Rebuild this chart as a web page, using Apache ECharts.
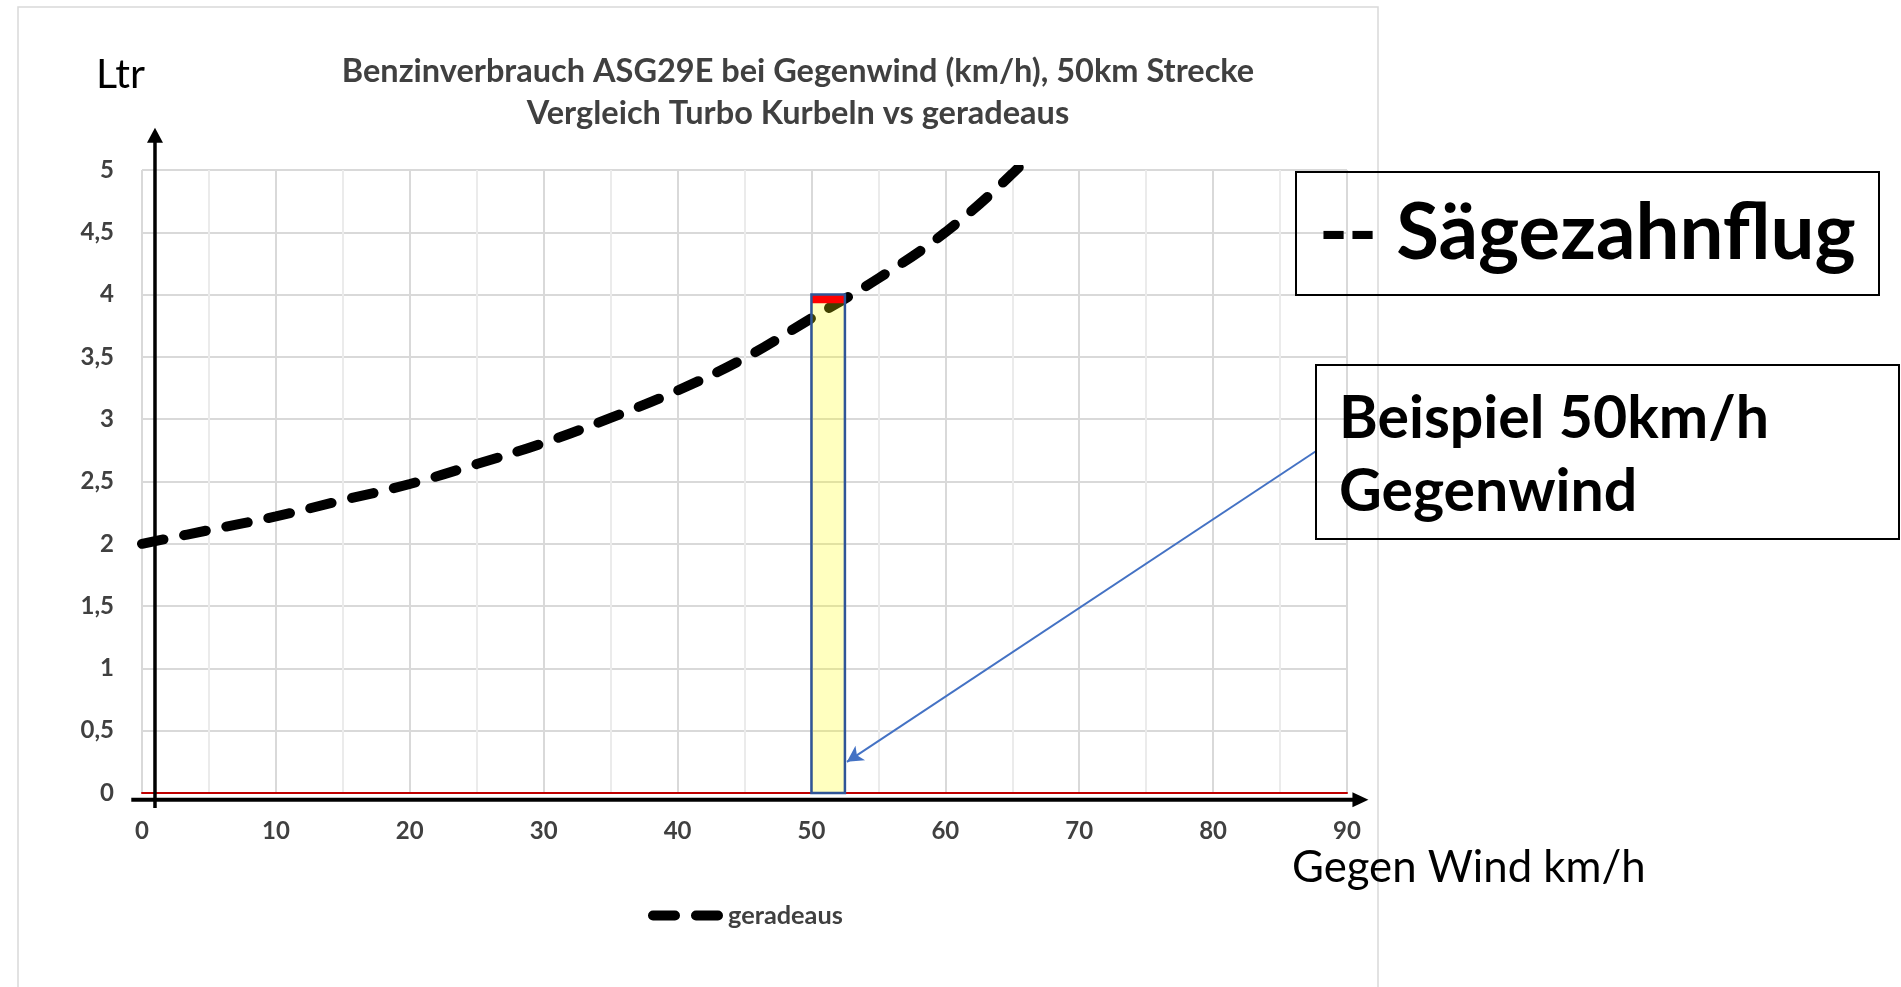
<!DOCTYPE html>
<html><head><meta charset="utf-8">
<script src="https://cdn.jsdelivr.net/npm/echarts@6/dist/echarts.min.js"></script>
<style>html,body{margin:0;padding:0;background:#fff}#c{width:1901px;height:987px}</style>
</head><body><div id="c"></div>
<script>
// ---- data ----
const windKmh = [0, 5, 10, 15, 20, 25, 30, 35, 40, 45, 50, 55, 60, 65, 70];
const fuelLtr = [2.0, 2.11, 2.22, 2.35, 2.48, 2.64, 2.81, 3.01, 3.23, 3.49, 3.81, 4.13, 4.5, 4.97, 5.52];
const seriesName = 'geradeaus';
const xTickValues = [0, 10, 20, 30, 40, 50, 60, 70, 80, 90];
const yTickLabels = ['0', '0,5', '1', '1,5', '2', '2,5', '3', '3,5', '4', '4,5', '5'];
const highlightBar = [50, 52.5, 0, 4];     // x0, x1, y0, y1
const redBand = [3.93, 4.0];               // y0, y1
const arrowFrom = [87.7, 2.745];
const arrowTo = [52.65, 0.25];
const titleLines = ['Benzinverbrauch ASG29E bei Gegenwind (km/h), 50km Strecke', 'Vergleich Turbo Kurbeln vs geradeaus'];
const yName = 'Ltr';
const xName = 'Gegen Wind km/h';
const box1Text = '-- Sägezahnflug';
const box2Lines = ['Beispiel 50km/h', 'Gegenwind'];

// ---- helpers ----
const FAM = 'Lato';
const mctx = document.createElement('canvas').getContext('2d');
function fit(text, weight, target) {
  mctx.font = weight + ' 100px ' + FAM;
  return Math.round(1000 * target / mctx.measureText(text).width) / 10;
}

const linePoints = windKmh.map((x, i) => [x, fuelLtr[i]]);
const chart = echarts.init(document.getElementById('c'));

const titleSize = fit(titleLines[0], 'bold', 913);
const dashIcon = 'path://M5,0H27A5,5,0,0,1,27,10H5A5,5,0,0,1,5,0ZM48,0H70A5,5,0,0,1,70,10H48A5,5,0,0,1,48,0Z';

const option = {
  animation: false,
  title: {
    text: titleLines.join('\n'),
    left: 798, top: 51, textAlign: 'center', padding: 0,
    textStyle: { fontFamily: FAM, fontWeight: 'bold', fontSize: titleSize, color: '#404040', lineHeight: 42 }
  },
  legend: {
    data: [{ name: seriesName, icon: dashIcon }], left: 648, top: 903, padding: 0, itemWidth: 75, itemHeight: 10,
    itemStyle: { color: '#000' },
    textStyle: { fontFamily: FAM, fontWeight: 'bold', fontSize: fit('geradeaus', 'bold', 115), color: '#404040' }
  },
  grid: { left: 142, top: 170, width: 1205, height: 623, containLabel: false },
  xAxis: {
    type: 'value', min: 0, max: 90, interval: 10,
    axisLine: { show: true, onZero: true, lineStyle: { color: '#C00000', width: 2 } },
    axisTick: { show: false },
    axisLabel: { margin: 26, fontFamily: FAM, fontWeight: 'bold', fontSize: 24, color: '#404040',
      formatter: v => (xTickValues.indexOf(v) >= 0 ? String(v) : '') },
    splitLine: { show: true, lineStyle: { color: '#d9d9d9', width: 2 } },
    minorTick: { show: false, splitNumber: 2 },
    minorSplitLine: { show: true, lineStyle: { color: '#ebebeb', width: 2 } }
  },
  yAxis: {
    type: 'value', min: 0, max: 5, interval: 0.5,
    axisLine: { show: false }, axisTick: { show: false },
    axisLabel: { margin: 28, fontFamily: FAM, fontWeight: 'bold', fontSize: 24, color: '#404040',
      formatter: (v) => yTickLabels[Math.round(v / 0.5)] },
    splitLine: { show: true, lineStyle: { color: '#d9d9d9', width: 2 } }
  },
  series: [
    {
      name: seriesName, type: 'line', data: linePoints, smooth: 0.4, symbol: 'none', clip: true, z: 2,
      lineStyle: { color: '#000', width: 10, type: [22, 21], cap: 'round' },
      itemStyle: { color: '#000' },
      markLine: {
        silent: true, symbol: ['none', 'arrow'], symbolSize: [13, 16],
        label: { show: false },
        lineStyle: { color: '#4472C4', width: 2, type: 'solid' },
        data: [[{ coord: arrowFrom }, { coord: arrowTo }]]
      }
    },
    {
      name: 'Beispiel', type: 'custom', z: 5, silent: true,
      data: [[highlightBar[0], highlightBar[1], highlightBar[2], highlightBar[3], redBand[0], redBand[1]]],
      renderItem: function (params, api) {
        const a = api.coord([api.value(0), api.value(3)]);
        const b = api.coord([api.value(1), api.value(2)]);
        const r0 = api.coord([api.value(0), api.value(5)]);
        const r1 = api.coord([api.value(1), api.value(4)]);
        return {
          type: 'group', children: [
            { type: 'rect', shape: { x: a[0], y: a[1], width: b[0] - a[0], height: b[1] - a[1] },
              style: { fill: 'rgba(255,255,0,0.25)', stroke: null } },
            { type: 'rect', shape: { x: r0[0], y: r0[1], width: r1[0] - r0[0], height: r1[1] - r0[1] },
              style: { fill: '#FF0000' } },
            { type: 'rect', shape: { x: a[0], y: a[1], width: b[0] - a[0], height: b[1] - a[1] },
              style: { fill: 'none', stroke: '#2F5597', lineWidth: 2.5 } }
          ]
        };
      }
    }
  ]
};
chart.setOption(option);

// ---- annotations (axis arrows, labels, boxes) ----
const P = (x, y) => chart.convertToPixel({ gridIndex: 0 }, [x, y]);
const yaBot = P(0.97, -0.12), yaTop = P(0.97, 5.34);
const xaL = P(-0.8, -0.055), xaR = P(91.6, -0.055);
const LW = 3.5;
const g = [];
g.push({ type: 'rect', shape: { x: 18, y: 7, width: 1360, height: 1000 }, style: { fill: 'none', stroke: '#d9d9d9', lineWidth: 1.5 }, z: 0, silent: true });
// y arrow
g.push({ type: 'line', shape: { x1: yaBot[0], y1: yaBot[1], x2: yaTop[0], y2: yaTop[1] + 13 }, style: { stroke: '#000', lineWidth: LW }, z: 50 });
g.push({ type: 'polygon', shape: { points: [[yaTop[0], yaTop[1]], [yaTop[0] - 8, yaTop[1] + 15], [yaTop[0] + 8, yaTop[1] + 15]] }, style: { fill: '#000' }, z: 50 });
// x arrow
g.push({ type: 'line', shape: { x1: xaL[0], y1: xaL[1], x2: xaR[0] - 13, y2: xaR[1] }, style: { stroke: '#000', lineWidth: 4 }, z: 50 });
g.push({ type: 'polygon', shape: { points: [[xaR[0], xaR[1]], [xaR[0] - 16, xaR[1] - 7.5], [xaR[0] - 16, xaR[1] + 7.5]] }, style: { fill: '#000' }, z: 50 });
// axis names
g.push({ type: 'text', style: { text: yName, x: 96, y: 75, fill: '#000', font: 'normal ' + fit(yName, 'normal', 49) + 'px ' + FAM, align: 'left', verticalAlign: 'middle' }, z: 50 });
g.push({ type: 'text', style: { text: xName, x: 1292, y: 868, fill: '#000', font: 'normal ' + fit(xName, 'normal', 354) + 'px ' + FAM, align: 'left', verticalAlign: 'middle' }, z: 50 });
// box 1
g.push({ type: 'rect', shape: { x: 1296, y: 172, width: 583, height: 123 }, style: { fill: 'none', stroke: '#000', lineWidth: 2 }, z: 50 });
g.push({ type: 'text', style: { text: box1Text, x: 1319, y: 234, fill: '#000', font: 'bold ' + fit(box1Text, 'bold', 537) + 'px ' + FAM, align: 'left', verticalAlign: 'middle' }, z: 50 });
// box 2
g.push({ type: 'rect', shape: { x: 1316, y: 365, width: 583, height: 174 }, style: { fill: 'none', stroke: '#000', lineWidth: 2 }, z: 50 });
const b2size = fit(box2Lines[0], 'bold', 430);
g.push({ type: 'text', style: { text: box2Lines[0], x: 1339, y: 419, fill: '#000', font: 'bold ' + b2size + 'px ' + FAM, align: 'left', verticalAlign: 'middle' }, z: 50 });
g.push({ type: 'text', style: { text: box2Lines[1], x: 1339, y: 492, fill: '#000', font: 'bold ' + b2size + 'px ' + FAM, align: 'left', verticalAlign: 'middle' }, z: 50 });

chart.setOption({ graphic: g });
</script>
</body></html>
